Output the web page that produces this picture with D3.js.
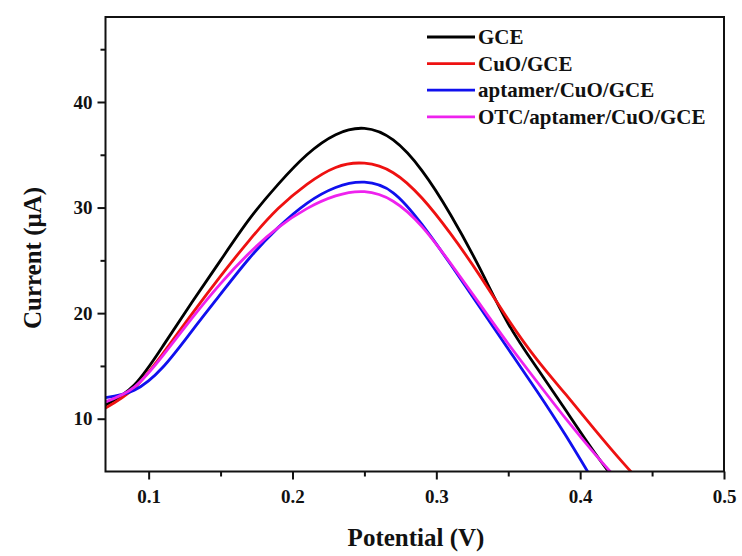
<!DOCTYPE html>
<html>
<head>
<meta charset="utf-8">
<script src="https://cdn.jsdelivr.net/npm/d3@7"></script>
<style>
  html, body { margin: 0; padding: 0; background: #fff; }
  svg text { font-family: "Liberation Serif", "Times New Roman", serif; font-weight: bold; fill: #111; }
</style>
</head>
<body>
<svg id="chart" width="742" height="556"></svg>
<script>
// ---- data ----
const potential = [0.07, 0.09, 0.11, 0.13, 0.15, 0.17, 0.19, 0.21, 0.23, 0.25, 0.27, 0.29, 0.31, 0.33, 0.35, 0.37, 0.39, 0.41, 0.43, 0.45];
const currentGCE      = [11.3, 13.2, 16.9, 21.0, 25.0, 28.9, 32.2, 35.0, 36.9, 37.5, 36.4, 33.5, 29.3, 24.3, 19.0, 14.8, 10.8, 6.8, 3.2, 0.0];
const currentCuO      = [11.0, 12.9, 16.2, 19.9, 23.5, 26.9, 29.9, 32.2, 33.8, 34.2, 33.3, 30.9, 27.5, 23.6, 19.4, 15.6, 12.3, 9.0, 5.8, 2.8];
const currentAptamer  = [12.0, 12.7, 14.9, 18.3, 21.8, 25.2, 28.1, 30.4, 31.9, 32.4, 31.4, 28.4, 24.6, 20.6, 16.6, 12.6, 8.4, 3.9, -0.6, -5.0];
const currentOTC      = [11.6, 13.0, 16.0, 19.5, 22.8, 25.7, 28.1, 29.9, 31.1, 31.5, 30.6, 28.2, 24.7, 20.9, 17.1, 13.5, 10.0, 6.7, 3.6, 0.6];
const seriesNames = ["GCE", "CuO/GCE", "aptamer/CuO/GCE", "OTC/aptamer/CuO/GCE"];
const seriesColors = ["#000000", "#ee1111", "#1010ee", "#ee22ee"];
const xMajorTicks = [0.1, 0.2, 0.3, 0.4, 0.5];
const xMinorTicks = [0.15, 0.25, 0.35, 0.45];
const yMajorTicks = [10, 20, 30, 40];
const yMinorTicks = [15, 25, 35, 45];
const xTitle = "Potential (V)";
const yTitle = "Current (μA)";

// ---- layout ----
const svg = d3.select("#chart");
const M = { left: 105.5, right: 724, top: 17, bottom: 471.5 };
const x = d3.scaleLinear().domain([0.07, 0.5]).range([M.left, M.right]);
const y = d3.scaleLinear().domain([5, 48.05]).range([M.bottom, M.top]);

const seriesValues = [currentGCE, currentCuO, currentAptamer, currentOTC];
const series = seriesNames.map((name, i) => ({
  name, color: seriesColors[i],
  points: potential.map((p, j) => [p, seriesValues[i][j]])
}));

svg.append("defs").append("clipPath").attr("id", "plotClip")
  .append("rect").attr("x", M.left).attr("y", M.top).attr("width", M.right - M.left).attr("height", M.bottom - M.top);

// curves
const line = d3.line().x(d => x(d[0])).y(d => y(d[1])).curve(d3.curveNatural);
const g = svg.append("g").attr("clip-path", "url(#plotClip)");
series.forEach(s => {
  g.append("path").attr("d", line(s.points))
    .attr("fill", "none").attr("stroke", s.color).attr("stroke-width", 2.8)
    .attr("stroke-linejoin", "round");
});

// axes
const xAxis = d3.axisBottom(x).tickValues(xMajorTicks).tickSize(8).tickPadding(10).tickFormat(d3.format(".1f"));
const xAxisMinor = d3.axisBottom(x).tickValues(xMinorTicks).tickSize(5).tickFormat("");
const yAxis = d3.axisLeft(y).tickValues(yMajorTicks).tickSize(8).tickPadding(5).tickFormat(d3.format("d"));
const yAxisMinor = d3.axisLeft(y).tickValues(yMinorTicks).tickSize(5).tickFormat("");

function styleAxis(sel) {
  sel.select(".domain").remove();
  sel.selectAll(".tick line").attr("stroke", "#111").attr("stroke-width", 2);
  sel.selectAll(".tick text").style("font-size", "19px").attr("fill", "#111");
}
svg.append("g").attr("transform", `translate(0,${M.bottom})`).call(xAxis).call(styleAxis);
svg.append("g").attr("transform", `translate(0,${M.bottom})`).call(xAxisMinor).call(styleAxis);
svg.append("g").attr("transform", `translate(${M.left},0)`).call(yAxis).call(styleAxis);
svg.append("g").attr("transform", `translate(${M.left},0)`).call(yAxisMinor).call(styleAxis);

// frame
svg.append("rect").attr("x", M.left).attr("y", M.top).attr("width", M.right - M.left).attr("height", M.bottom - M.top)
  .attr("fill", "none").attr("stroke", "#111").attr("stroke-width", 2);

// axis titles
svg.append("text").attr("x", 416).attr("y", 546).attr("text-anchor", "middle")
  .style("font-size", "25px").text(xTitle);
svg.append("text").attr("transform", "translate(41,258) rotate(-90)").attr("text-anchor", "middle")
  .style("font-size", "25px").text(yTitle);

// legend
const legend = svg.append("g");
series.forEach((s, i) => {
  const ly = 37 + i * 26.6;
  legend.append("line").attr("x1", 427).attr("x2", 475).attr("y1", ly).attr("y2", ly)
    .attr("stroke", s.color).attr("stroke-width", 2.8);
  legend.append("text").attr("x", 478).attr("y", ly + 7).style("font-size", "21px").text(s.name);
});
</script>
</body>
</html>
